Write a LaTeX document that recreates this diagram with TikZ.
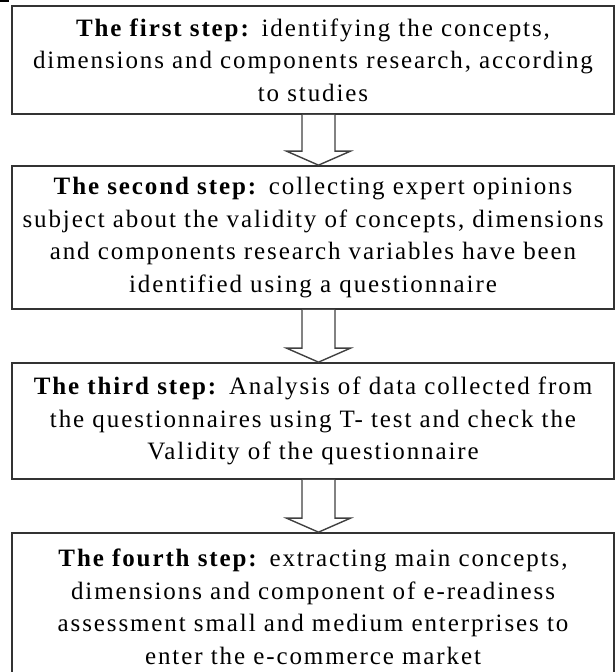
\documentclass[tikz,border=0pt]{standalone}
\usepackage{fontspec}
\setmainfont{Liberation Serif}[LetterSpace=7.6]
\usetikzlibrary{calc}

\tikzset{
  stepbox/.style={draw=black!80, line width=1.7pt, fill=white, inner sep=0pt,
    minimum width=602pt, align=center, text=black,
    font=\fontsize{25}{32.5}\selectfont},
  blockarrow/.style={draw=black!75, line width=1.4pt, fill=white, line join=miter}
}

% draws a hollow down arrow from the bottom of #1 to the top of #2
\newcommand{\stepdown}[2]{%
  \draw[blockarrow]
    ($(#1.south -| ax)+(-16.5,0)$) --
    ($(#2.north -| ax)+(-16.5,-14)$) --
    ($(#2.north -| ax)+(-32,-14)$) --
    (#2.north -| ax) --
    ($(#2.north -| ax)+(32,-14)$) --
    ($(#2.north -| ax)+(16.5,-14)$) --
    ($(#1.south -| ax)+(16.5,0)$);}

\begin{document}
\begin{tikzpicture}[x=1pt, y=-1pt]
  \useasboundingbox (0,0) rectangle (615,672);
  \clip (0,0) rectangle (615,672);

  % small mark in the top left corner
  \fill[black] (0,0) rectangle (9,2);

  \coordinate (ax) at (318.5,0);

  \node[stepbox, minimum height=108pt] (b1) at (313,60)
    {\textbf{The first step:} identifying the concepts,\\
     dimensions and components research, according\\
     to studies};

  \node[stepbox, minimum height=143pt] (b2) at (313,237.5)
    {\textbf{The second step:} collecting expert opinions\\
     subject about the validity of concepts, dimensions\\
     and components research variables have been\\
     identified using a questionnaire};

  \node[stepbox, minimum height=116pt] (b3) at (313,421)
    {\textbf{The third step:} Analysis of data collected from\\
     the questionnaires using T- test and check the\\
     Validity of the questionnaire};

  \node[stepbox, minimum height=148pt] (b4) at (313,607)
    {\textbf{The fourth step:} extracting main concepts,\\
     dimensions and component of e-readiness\\
     assessment small and medium enterprises to\\
     enter the e-commerce market};

  \stepdown{b1}{b2}
  \stepdown{b2}{b3}
  \stepdown{b3}{b4}
\end{tikzpicture}
\end{document}
